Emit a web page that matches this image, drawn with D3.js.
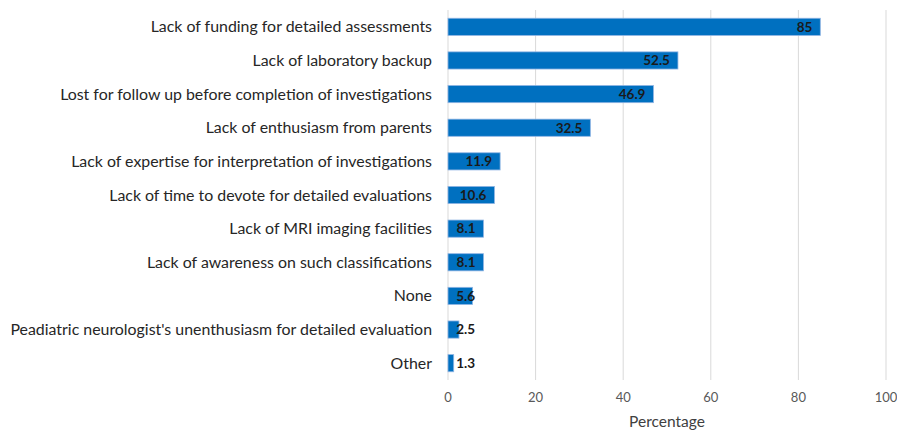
<!DOCTYPE html>
<html>
<head>
<meta charset="utf-8">
<script src="https://cdn.jsdelivr.net/npm/d3@7"></script>
<style>
  body { margin: 0; background: #fff; }
  text { font-family: Lato, "Open Sans", sans-serif; }
</style>
</head>
<body>
<div id="chart"></div>
<script>
const categories = [
  'Lack of funding for detailed assessments',
  'Lack of laboratory backup',
  'Lost for follow up before completion of investigations',
  'Lack of enthusiasm from parents',
  'Lack of expertise for interpretation of investigations',
  'Lack of time to devote for detailed evaluations',
  'Lack of MRI imaging facilities',
  'Lack of awareness on such classifications',
  'None',
  "Peadiatric neurologist's unenthusiasm for detailed evaluation",
  'Other'
];
const values = [85, 52.5, 46.9, 32.5, 11.9, 10.6, 8.1, 8.1, 5.6, 2.5, 1.3];
const ticks = [0, 20, 40, 60, 80, 100];

const width = 897, height = 430;
const svg = d3.select('#chart').append('svg')
  .attr('width', width)
  .attr('height', height);

const x = d3.scaleLinear().domain([0, 100]).range([448, 886]);
const y = d3.scaleBand().domain(categories).range([10, 380]).paddingInner(0.49).paddingOuter(0.245);

// gridlines
svg.append('g')
  .selectAll('line')
  .data(ticks)
  .join('line')
  .attr('x1', d => x(d)).attr('x2', d => x(d))
  .attr('y1', 10).attr('y2', 380)
  .attr('stroke', '#d9d9d9')
  .attr('stroke-width', 1);

// tick labels
svg.append('g')
  .selectAll('text')
  .data(ticks)
  .join('text')
  .attr('x', d => x(d))
  .attr('y', 402)
  .attr('text-anchor', 'middle')
  .attr('font-size', 13)
  .attr('fill', '#595959')
  .text(d => d);

svg.append('text')
  .attr('x', x(50))
  .attr('y', 427)
  .attr('text-anchor', 'middle')
  .attr('font-size', 15.5)
  .attr('fill', '#404040')
  .text('Percentage');

// category labels
svg.append('g')
  .selectAll('text')
  .data(categories)
  .join('text')
  .attr('x', 432)
  .attr('y', d => y(d) + y.bandwidth() / 2)
  .attr('dy', '0.35em')
  .attr('text-anchor', 'end')
  .attr('font-size', 15.9)
  .attr('fill', '#262626')
  .text(d => d);

// bars
svg.append('g')
  .selectAll('rect')
  .data(values)
  .join('rect')
  .attr('x', x(0))
  .attr('y', (d, i) => y(categories[i]))
  .attr('width', d => x(d) - x(0))
  .attr('height', y.bandwidth())
  .attr('fill', '#0070c0')
  .attr('stroke', '#8fb4e3')
  .attr('stroke-width', 0.8);

// value labels
svg.append('g')
  .selectAll('text')
  .data(values)
  .join('text')
  .attr('x', d => Math.max(x(d) - 8, x(0) + 27))
  .attr('y', (d, i) => y(categories[i]) + y.bandwidth() / 2)
  .attr('dy', '0.36em')
  .attr('text-anchor', 'end')
  .attr('font-size', 13.5)
  .attr('font-weight', 'bold')
  .attr('fill', '#1a1a1a')
  .text(d => d);
</script>
</body>
</html>
